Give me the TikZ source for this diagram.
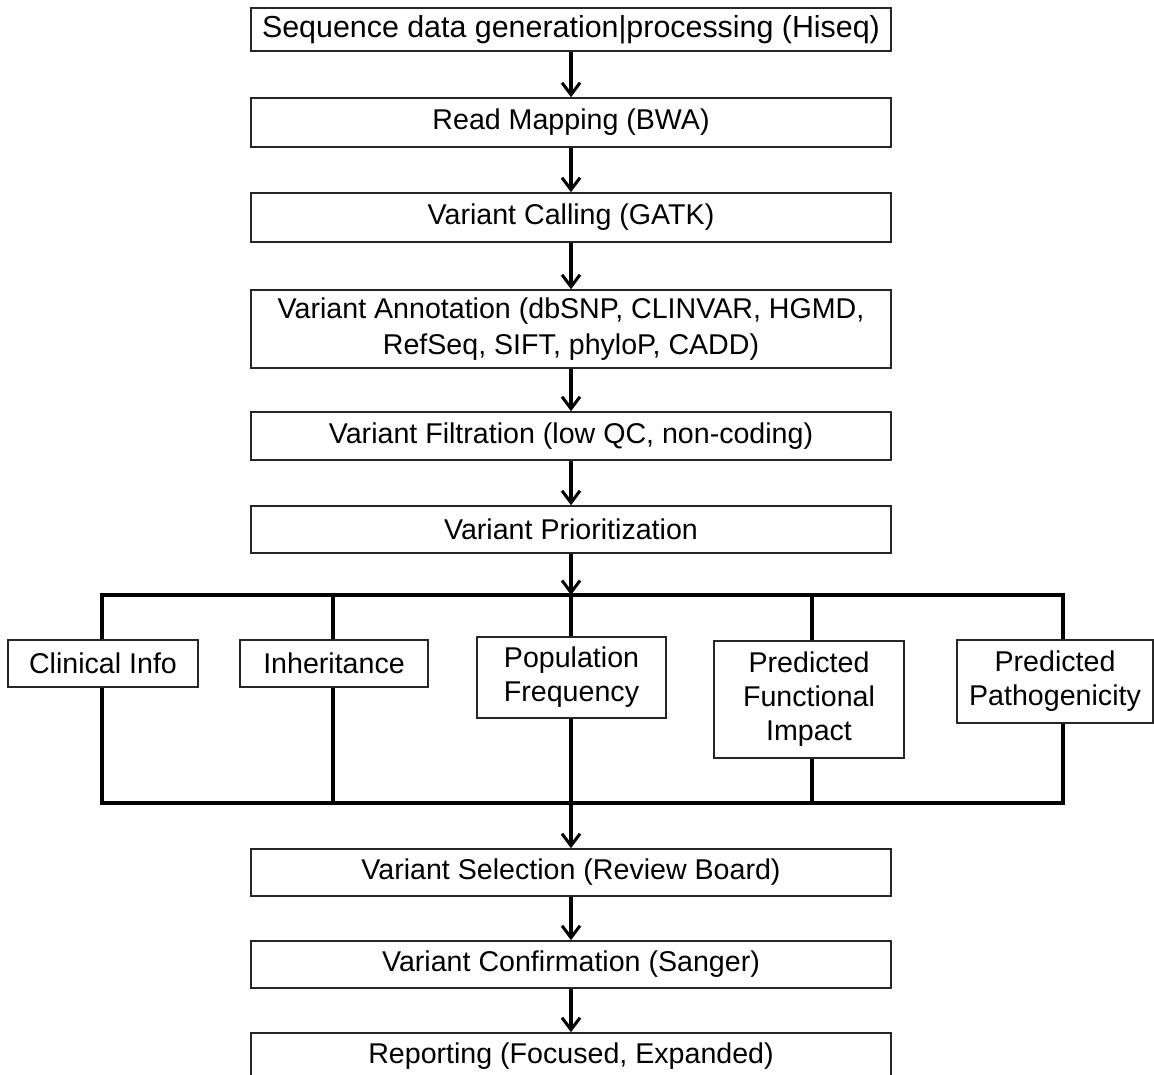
\documentclass[tikz,border=0pt]{standalone}
\usepackage{fontspec}
\setmainfont{Liberation Sans}
\usetikzlibrary{arrows.meta}
\begin{document}
\begin{tikzpicture}[x=0.5pt,y=-0.5pt,
  box/.style={draw=black!85,line width=0.8pt,inner sep=0pt,align=center,
    font=\fontsize{14.3}{17}\selectfont},
  mainbox/.style={box,minimum width=320pt},
  conn/.style={line width=1.6pt,black},
  arr/.style={conn,-{Straight Barb[length=6pt,width=9pt,line width=1.5pt]}}]
\useasboundingbox (0,0) rectangle (1154,1074);
% main chain
\node[mainbox,minimum height=21.5pt,font=\fontsize{15.2}{17}\selectfont] (b1) at (571,29.5) {Sequence data generation|processing (Hiseq)};
\node[mainbox,minimum height=24.5pt] (b2) at (571,122.5) {Read Mapping (BWA)};
\node[mainbox,minimum height=24.5pt] (b3) at (571,217.5) {Variant Calling (GATK)};
\node[mainbox,minimum height=39pt,font=\fontsize{14.3}{18}\selectfont] (b4) at (571,329) {Variant Annotation (dbSNP, CLINVAR, HGMD,\\RefSeq, SIFT, phyloP, CADD)};
\node[mainbox,minimum height=24pt] (b5) at (571,436) {Variant Filtration (low QC, non-coding)};
\node[mainbox,minimum height=23.5pt] (b6) at (571,529.5) {Variant Prioritization};
% criteria boxes
\node[box,minimum width=95pt,minimum height=23.5pt] (clin) at (103,663.5) {Clinical Info};
\node[box,minimum width=94pt,minimum height=23.5pt] (inh) at (334,663.5) {Inheritance};
\node[box,minimum width=94.5pt,minimum height=40.5pt] (pop) at (571.5,677.5) {Population\\Frequency};
\node[box,minimum width=95pt,minimum height=58.5pt] (func) at (809,699.5) {Predicted\\Functional\\Impact};
\node[box,minimum width=98pt,minimum height=41.5pt] (path) at (1055,681.5) {Predicted\\Pathogenicity};
% lower chain
\node[mainbox,minimum height=23.5pt] (sel) at (571,872.5) {Variant Selection (Review Board)};
\node[mainbox,minimum height=23.5pt] (conf) at (571,964.5) {Variant Confirmation (Sanger)};
\node[mainbox,minimum height=23.5pt] (rep) at (571,1056.5) {Reporting (Focused, Expanded)};
% bus coordinates
\coordinate (t1) at (102,595);
\coordinate (t2) at (333,595);
\coordinate (t3) at (571,595);
\coordinate (t4) at (812,595);
\coordinate (t5) at (1063,595);
\coordinate (u1) at (102,803);
\coordinate (u2) at (333,803);
\coordinate (u3) at (571,803);
\coordinate (u4) at (812,803);
\coordinate (u5) at (1063,803);
% arrows main chain
\draw[arr] (b1) -- (b2);
\draw[arr] (b2) -- (b3);
\draw[arr] (b3) -- (b4);
\draw[arr] (b4) -- (b5);
\draw[arr] (b5) -- (b6);
\draw[arr] (b6) -- (t3);
% bus lines
\draw[conn,line cap=rect] (t1) -- (t5);
\draw[conn,line cap=rect] (u1) -- (u5);
\draw[conn] (t1) -- (t1 |- clin.north);
\draw[conn] (t2) -- (t2 |- inh.north);
\draw[conn] (t3) -- (t3 |- pop.north);
\draw[conn] (t4) -- (t4 |- func.north);
\draw[conn] (t5) -- (t5 |- path.north);
\draw[conn] (u1 |- clin.south) -- (u1);
\draw[conn] (u2 |- inh.south) -- (u2);
\draw[conn] (u3 |- pop.south) -- (u3);
\draw[conn] (u4 |- func.south) -- (u4);
\draw[conn] (u5 |- path.south) -- (u5);
% lower arrows
\draw[arr] (u3) -- (sel);
\draw[arr] (sel) -- (conf);
\draw[arr] (conf) -- (rep);
\end{tikzpicture}
\end{document}
